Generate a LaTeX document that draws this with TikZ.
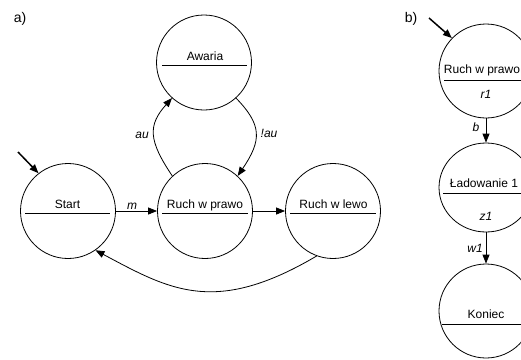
\documentclass[tikz,border=0pt]{standalone}
\usepackage{fontspec}
\setmainfont{Liberation Sans}
\usetikzlibrary{arrows.meta,shapes.geometric}
\begin{document}
\begin{tikzpicture}[x=1pt,y=-1pt,
  state/.style={circle, draw, line width=0.8pt, minimum size=95pt, inner sep=0pt},
  stateb/.style={circle, draw, line width=0.8pt, minimum size=94pt, inner sep=0pt},
  statee/.style={ellipse, draw, line width=0.8pt, minimum width=94pt, minimum height=89pt, inner sep=0pt},
  divider/.style={line width=0.8pt},
  txt/.style={font=\fontsize{12}{14}\selectfont, inner sep=0pt, anchor=base},
  elbl/.style={font=\fontsize{12}{14}\selectfont\itshape, inner sep=0pt},
  plbl/.style={font=\fontsize{14}{16}\selectfont, inner sep=0pt},
  conn/.style={line width=0.8pt, -{Triangle[length=9pt,width=7pt]}},
  initarr/.style={line width=1.5pt, -{Triangle[length=9pt,width=7pt]}}]
\clip (0,0) rectangle (521,359);
% panel labels
\node[plbl] (pa) at (20,19) {a)};
\node[plbl] (pb) at (411,19) {b)};
% ---- panel a ----
\node[state] (s) at (68,211) {};
\node[state] (rp) at (205,211) {};
\node[state] (rl) at (333,211) {};
\node[state] (aw) at (204,62.5) {};
\node[txt] (ts) at (67.5,208.5) {Start};
\node[txt] (trp) at (205,208.5) {Ruch w prawo};
\node[txt] (trl) at (333.5,208.5) {Ruch w lewo};
\node[txt] (taw) at (205,60) {Awaria};
\draw[divider] (25,213.5) -- (110,213.5);
\draw[divider] (162,213.5) -- (248,213.5);
\draw[divider] (290,213.5) -- (376,213.5);
\draw[divider] (162,65) -- (247,65);
\coordinate (ia) at (18,152);
\draw[initarr] (ia) -- (s.128);
\draw[conn] (s.east) -- (rp.west);
\node[elbl] (lm) at (132,206) {m};
\draw[conn] (rp.east) -- (rl.west);
\draw[conn] (rp.133) .. controls (148,140) and (148,125) .. (aw.-132);
\node[elbl] (lau) at (142,135) {au};
\draw[conn] (aw.-48) .. controls (262,125) and (262,140) .. (rp.47);
\node[elbl] (lnau) at (269,133) {!au};
\draw[conn] (rl.-110) .. controls (215,316) and (170,290) .. (s.-55);
% ---- panel b ----
\node[stateb] (b1) at (486,71) {};
\node[statee] (b2) at (486,187.5) {};
\node[stateb] (b3) at (486,311) {};
\node[txt] (tb1) at (482,73.5) {Ruch w prawo};
\node[txt] (tb1b) at (486,98) {\itshape r1};
\node[txt] (tb2) at (484,187) {Ładowanie 1};
\node[txt] (tb2b) at (486,220) {\itshape z1};
\node[txt] (tb3) at (486,318) {Koniec};
\draw[divider] (444,80) -- (530,80);
\draw[divider] (443,193) -- (530,193);
\draw[divider] (442,324) -- (530,324);
\coordinate (ib) at (429,18);
\draw[initarr] (ib) -- (b1.136);
\draw[conn] (b1.south) -- (b2.north);
\node[elbl] (lb) at (476,127) {b};
\draw[conn] (b2.south) -- (b3.north);
\node[elbl] (lw) at (475,248) {w1};
\end{tikzpicture}
\end{document}
